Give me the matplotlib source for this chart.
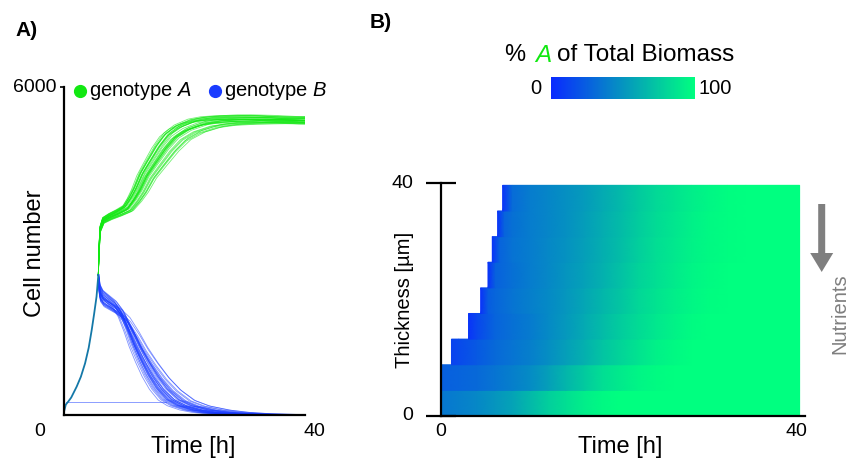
import matplotlib
matplotlib.use('Agg')
import matplotlib.pyplot as plt
import numpy as np
from matplotlib.colors import LinearSegmentedColormap, Normalize
from matplotlib.cm import ScalarMappable
from matplotlib.patches import FancyArrow

plt.rcParams['font.family'] = ['Liberation Sans', 'DejaVu Sans']
plt.rcParams['mathtext.fontset'] = 'custom'
plt.rcParams['mathtext.rm'] = 'Liberation Sans'
plt.rcParams['mathtext.it'] = 'Liberation Sans:italic'

GREEN = '#12e812'
BLUE = '#1a3cff'

# --- panel A: cell numbers over time -------------------------------------
# shared growth before the two genotypes separate
shared_t = [0.0, 0.3, 0.7, 1.2, 2.1, 2.8, 3.5, 4.1, 4.6, 5.0, 5.4, 5.7]
shared_n = [60, 190, 245, 320, 518, 700, 946, 1230, 1555, 1850, 2165, 2560]
branch_t = 5.7

# genotype A after the split
a_t = [5.7, 5.8, 6.0, 6.5, 7.6, 9.0, 10.4, 11.5, 12.4, 13.5, 14.8, 16.5, 18.1,
       20.0, 22.6, 25.0, 28.0, 32.0, 36.0, 40.0, 46.0]
a_n = [2560, 3000, 3400, 3560, 3630, 3700, 3780, 3950, 4120, 4380, 4600, 4880,
       5090, 5230, 5337, 5380, 5400, 5410, 5400, 5380, 5380]

# genotype B after the split
b_t = [5.7, 5.8, 6.0, 6.5, 7.6, 8.7, 9.8, 11.0, 12.1, 13.4, 14.8, 16.3, 18.1,
       20.0, 22.6, 25.0, 28.0, 32.0, 36.0, 40.0, 46.0]
b_n = [2560, 2400, 2230, 2130, 2040, 1950, 1800, 1530, 1250, 970, 700, 470, 275,
       170, 92, 50, 22, 8, 3, 0, 0]

# one replicate left a flat trace near the bottom
b_floor_t = [0.4, 17.0]
b_floor_n = [245, 245]

# per-replicate timing and size factors
a_stretch = [0.82, 1.10, 0.90, 1.02, 0.95, 1.16, 0.88, 1.04, 0.97, 1.20, 0.93,
             1.07, 0.99, 1.13, 0.86, 1.00, 1.05, 0.92, 1.18, 0.96, 1.08, 0.94,
             1.01, 1.12, 0.89, 1.03, 0.98, 1.24, 0.91, 1.06]
a_amp = [1.000, 0.990, 1.012, 0.995, 1.006, 0.986, 1.014, 1.000, 0.990, 0.995,
         1.008, 1.000, 1.012, 0.988, 1.000, 0.994, 1.006, 1.002, 0.985, 1.015,
         0.996, 1.006, 1.000, 0.990, 1.008, 0.995, 1.002, 0.990, 1.012, 1.000]
b_stretch = [0.80, 1.14, 0.91, 1.00, 0.95, 1.22, 0.86, 1.06, 0.98, 1.28, 0.93,
             1.09, 1.01, 1.17, 0.84, 1.03, 1.07, 0.89, 1.24, 0.97, 1.12, 0.92,
             0.99, 1.15, 0.85, 1.02, 0.94, 1.30, 0.90, 1.08]
b_amp = [1.00, 0.94, 1.06, 0.97, 1.03, 0.93, 1.07, 1.00, 0.96, 0.99, 1.05,
         1.01, 1.06, 0.95, 1.00, 0.97, 1.03, 1.02, 0.94, 1.07, 0.98, 1.02,
         1.00, 0.96, 1.04, 0.99, 1.01, 0.95, 1.05, 1.00]

# --- panel B: share of genotype A per biofilm layer -----------------------
layer_h = 4.4
layer_t = [
    [0, 2, 4, 6, 8, 10, 12, 14, 16, 18, 20, 40],
    [0, 2, 4, 6, 8, 10, 12, 14, 16, 18, 20, 22, 24, 26, 40],
    [1.2, 2, 4, 6, 8, 10, 12, 14, 16, 18, 20, 22, 24, 26, 28, 40],
    [3.1, 4, 6, 8, 10, 12, 14, 16, 18, 20, 22, 24, 26, 28, 30, 40],
    [4.45, 5.3, 6, 8, 10, 12, 14, 16, 18, 20, 22, 24, 26, 28, 30, 32, 40],
    [5.27, 6.1, 8, 10, 12, 14, 16, 18, 20, 22, 24, 26, 28, 30, 32, 40],
    [5.75, 6.6, 8, 10, 12, 14, 16, 18, 20, 22, 24, 26, 28, 30, 32, 34, 40],
    [6.34, 7.1, 8, 10, 12, 14, 16, 18, 20, 22, 24, 26, 28, 30, 32, 34, 40],
    [6.9, 7.7, 8, 10, 12, 14, 16, 18, 20, 22, 24, 26, 28, 30, 32, 34, 40],
]
layer_pct = [
    [36, 40, 44, 50, 57, 67, 77, 85, 92, 97, 100, 100],
    [25, 27, 30, 35, 40, 46, 55, 66, 75, 84, 90, 95, 98, 100, 100],
    [12, 15, 22, 30, 35, 40, 47, 55, 63, 72, 80, 87, 93, 97, 100, 100],
    [5, 14, 27, 33, 38, 45, 52, 60, 68, 76, 83, 89, 94, 98, 100, 100],
    [4, 24, 28, 35, 40, 45, 51, 58, 66, 73, 81, 87, 92, 96, 99, 100, 100],
    [4, 26, 33, 39, 44, 50, 56, 63, 71, 79, 85, 90, 95, 98, 100, 100],
    [5, 27, 34, 39, 44, 49, 55, 62, 69, 77, 84, 89, 94, 97, 99, 100, 100],
    [5, 27, 33, 39, 43, 48, 54, 61, 68, 76, 83, 88, 93, 97, 99, 100, 100],
    [5, 24, 31, 39, 43, 48, 53, 60, 67, 75, 82, 87, 92, 96, 99, 100, 100],
]

cmap = LinearSegmentedColormap.from_list('biomass', ['#0a2aff', '#00ff80'])
norm = Normalize(0, 100)

W, H = 848, 467
fig = plt.figure(figsize=(W / 100, H / 100), dpi=100)


def box(x0, y0, x1, y1):
    return [x0 / W, 1 - y1 / H, (x1 - x0) / W, (y1 - y0) / H]


# ---------------- A) cell number ----------------
ax1 = fig.add_axes(box(64, 87, 305, 415))
for s, a in zip(a_stretch, a_amp):
    t = branch_t + (np.array(a_t) - branch_t) * s
    n = np.array(a_n) * a
    n[0] = a_n[0]
    ax1.plot(t, n, color=GREEN, lw=0.6, alpha=0.6)
for s, a in zip(b_stretch, b_amp):
    t = branch_t + (np.array(b_t) - branch_t) * s
    n = np.array(b_n) * a
    n[0] = b_n[0]
    ax1.plot(t, n, color=BLUE, lw=0.6, alpha=0.55)
ax1.plot(b_floor_t, b_floor_n, color=BLUE, lw=0.7, alpha=0.5)
ax1.plot(shared_t, shared_n, color='#1478a8', lw=1.3)

ax1.set_xlim(0, 40)
ax1.set_ylim(0, 6000)
ax1.set_xticks([])
ax1.set_yticks([6000])
ax1.set_yticklabels([])
ax1.tick_params(axis='y', length=3, width=1.2)
for side in ['top', 'right']:
    ax1.spines[side].set_visible(False)
for side in ['left', 'bottom']:
    ax1.spines[side].set_linewidth(1.6)

# ---------------- B) layer composition ----------------
ax2 = fig.add_axes(box(440.7, 183, 805, 416))
for i, (tt, pp) in enumerate(zip(layer_t, layer_pct)):
    y0, y1 = i * layer_h, (i + 1) * layer_h
    X = np.array([tt, tt])
    Y = np.array([[y0] * len(tt), [y1] * len(tt)])
    C = np.array([pp, pp])
    ax2.pcolormesh(X, Y, C, cmap=cmap, norm=norm, shading='gouraud')

ax2.set_xlim(0, 40.6)
ax2.set_ylim(0, 40)
ax2.set_xticks([])
ax2.set_yticks([0, 40])
ax2.set_yticklabels([])
ax2.tick_params(axis='y', direction='inout', length=21, width=1.6)
for side in ['top', 'right']:
    ax2.spines[side].set_visible(False)
for side in ['left', 'bottom']:
    ax2.spines[side].set_linewidth(1.6)
    ax2.spines[side].set_zorder(5)

cax = fig.add_axes(box(551, 77, 695, 99))
cb = fig.colorbar(ScalarMappable(norm=norm, cmap=cmap), cax=cax,
                  orientation='horizontal')
cb.set_ticks([])
cb.outline.set_visible(False)

# ---------------- labels, drawn in pixel space ----------------
ov = fig.add_axes([0, 0, 1, 1])
ov.set_xlim(0, W)
ov.set_ylim(H, 0)
ov.axis('off')

ov.text(27, 30, 'A)', fontsize=15, fontweight='bold', ha='center', va='center')
ov.text(381, 22, 'B)', fontsize=15, fontweight='bold', ha='center', va='center')

ov.text(56, 88, '6000', fontsize=14, ha='right', va='center')
ov.text(40, 432, '0', fontsize=14, ha='center', va='center')
ov.text(314, 432, '40', fontsize=14, ha='center', va='center')
ov.text(193, 447, 'Time [h]', fontsize=17, ha='center', va='center')
ov.text(35, 253, 'Cell number', fontsize=17, rotation=90,
        ha='center', va='center')

ov.plot(80, 91, 'o', ms=8.5, color=GREEN)
ov.text(89, 91, 'genotype $A$', fontsize=14.5, ha='left', va='center')
ov.plot(215, 91, 'o', ms=8.5, color=BLUE)
ov.text(224, 91, 'genotype $B$', fontsize=14.5, ha='left', va='center')

ov.text(413, 183, '40', fontsize=14, ha='right', va='center')
ov.text(413, 416, '0', fontsize=14, ha='right', va='center')
ov.text(441, 432, '0', fontsize=14, ha='center', va='center')
ov.text(796, 432, '40', fontsize=14, ha='center', va='center')
ov.text(620, 447, 'Time [h]', fontsize=17, ha='center', va='center')
ov.text(405, 300, 'Thickness [µm]', fontsize=14.5, rotation=90,
        ha='center', va='center')

ov.text(504, 55, '%', fontsize=17, ha='left', va='center')
ov.text(535, 55, 'A', fontsize=17.5, ha='left', va='center',
        style='italic', color=GREEN)
ov.text(557, 55, 'of Total Biomass', fontsize=17.5, ha='left', va='center')
ov.text(536, 88, '0', fontsize=14.5, ha='center', va='center')
ov.text(698, 88, '100', fontsize=14.5, ha='left', va='center')

ov.add_patch(FancyArrow(821.7, 204, 0, 68, width=7, head_width=23,
                        head_length=19, length_includes_head=True,
                        color='#7f7f7f', lw=0))
ov.text(840, 314, 'Nutrients', fontsize=14.5, rotation=90, color='#7f7f7f',
        ha='center', va='center')

fig.savefig('out.png', dpi=100, facecolor='white')
